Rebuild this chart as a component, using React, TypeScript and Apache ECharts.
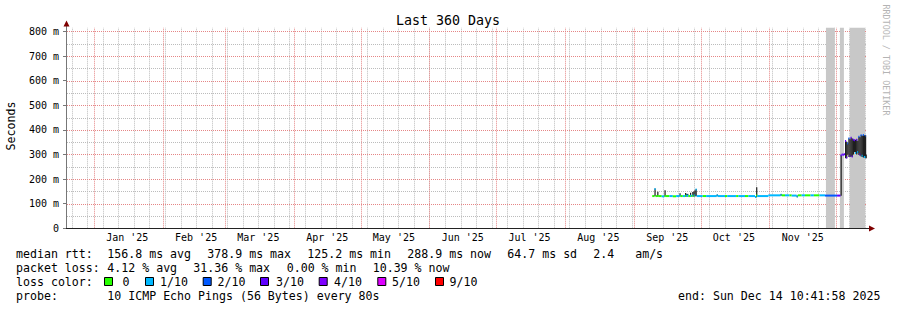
import React, { useEffect, useRef } from 'react';
import * as echarts from 'echarts';

// ---------- data ----------
const START = Date.UTC(2024, 11, 19, 10, 41, 58);
const END = Date.UTC(2025, 11, 14, 10, 41, 58);
const Y_MAX = 815;

const monthLabels = ["Jan '25", "Feb '25", "Mar '25", "Apr '25", "May '25", "Jun '25", "Jul '25", "Aug '25", "Sep '25", "Oct '25", "Nov '25"];
const monthStarts = ['2025-01-01', '2025-02-01', '2025-03-01', '2025-04-01', '2025-05-01', '2025-06-01', '2025-07-01', '2025-08-01', '2025-09-01', '2025-10-01', '2025-11-01', '2025-12-01'];
const yMajorTicks = [0, 100, 200, 300, 400, 500, 600, 700, 800];
const yMinorTicks = [50, 150, 250, 350, 450, 550, 650, 750];

const sampleTimes = [
  '2025-09-09 06:00', '2025-09-10 06:00', '2025-09-10 18:00', '2025-09-11 12:00', '2025-09-12 00:00',
  '2025-09-13 12:00', '2025-09-14 18:00', '2025-09-15 06:00', '2025-09-17 00:00', '2025-09-18 12:00',
  '2025-09-20 00:00', '2025-09-21 12:00', '2025-09-22 00:00', '2025-09-23 00:00', '2025-09-24 00:00',
  '2025-09-24 12:00', '2025-09-25 12:00', '2025-09-26 06:00', '2025-09-26 18:00', '2025-09-27 06:00',
  '2025-09-27 18:00', '2025-09-28 06:00', '2025-09-28 18:00', '2025-09-29 06:00', '2025-10-02 00:00',
  '2025-10-03 12:00', '2025-10-08 06:00', '2025-10-08 18:00', '2025-10-12 00:00', '2025-10-13 00:00',
  '2025-10-17 00:00', '2025-10-18 00:00', '2025-10-21 00:00', '2025-10-22 12:00', '2025-10-25 12:00',
  '2025-10-26 00:00', '2025-10-26 12:00', '2025-10-31 12:00', '2025-11-06 00:00', '2025-11-06 12:00',
  '2025-11-08 00:00', '2025-11-10 00:00', '2025-11-11 00:00', '2025-11-13 06:00', '2025-11-13 18:00',
  '2025-11-15 12:00', '2025-11-17 00:00', '2025-11-19 12:00', '2025-11-21 00:00', '2025-11-23 12:00',
  '2025-11-26 00:00', '2025-12-01 10:00', '2025-12-03 00:00', '2025-12-03 12:00', '2025-12-04 00:00',
  '2025-12-04 12:00', '2025-12-05 00:00', '2025-12-05 12:00', '2025-12-06 00:00', '2025-12-06 12:00',
  '2025-12-07 00:00', '2025-12-07 12:00', '2025-12-08 00:00', '2025-12-08 12:00', '2025-12-09 00:00',
  '2025-12-09 12:00', '2025-12-10 00:00', '2025-12-10 12:00', '2025-12-11 00:00', '2025-12-11 12:00',
  '2025-12-12 00:00', '2025-12-12 12:00', '2025-12-13 00:00', '2025-12-13 12:00', '2025-12-14 00:00',
  '2025-12-14 06:00',
];
const medianValues = [
  131, 160, 131, 131, 131,
  130, 131, 131, 131, 130,
  131, 133, 131, 131, 132,
  133, 131, 132, 131, 133,
  132, 134, 158, 131, 131,
  131, 134, 131, 131, 131,
  131, 131, 131, 131, 127,
  133, 131, 134, 136, 134,
  134, 134, 133, 129, 134,
  134, 134, 134, 134, 134,
  133, 133, 297, 300, 299,
  301, 355, 288, 345, 365,
  295, 368, 292, 360, 358,
  306, 360, 310, 372, 300,
  378, 295, 379, 290, 376,
  289,
];
const lossLevels = [
  0, 1, 0, 0, 0,
  1, 0, 0, 1, 0,
  1, 1, 0, 1, 0,
  1, 0, 1, 0, 1,
  0, 1, 1, 1, 0,
  1, 1, 1, 0, 1,
  0, 1, 0, 1, 1,
  0, 1, 1, 1, 0,
  1, 0, 1, 1, 0,
  1, 0, 1, 0, 1,
  2, 3, 3, 3, 3,
  3, 3, 3, 2, 2,
  3, 3, 3, 3, 3,
  1, 3, 1, 2, 3,
  2, 1, 2, 1, 2,
  1,
];
const smokeLow = [
  null, 130, null, 129, null,
  null, 129, null, null, null,
  null, 129, null, null, 129,
  129, null, 129, null, 129,
  129, 130, 130, null, null,
  null, 130, null, null, null,
  null, null, null, null, 123,
  128, null, null, 132, null,
  null, null, null, 126, null,
  null, null, null, null, null,
  null, null, 132, null, null,
  null, 285, 285, 300, 290,
  290, 292, 290, 300, 310,
  305, 300, 305, 298, 296,
  292, 290, 288, 286, 285,
  285,
];
const smokeHigh = [
  null, 162, null, 149, null,
  null, 155, null, null, null,
  null, 142, null, null, 143,
  140, null, 145, null, 148,
  150, 155, 160, null, null,
  null, 137, null, null, null,
  null, null, null, null, 131,
  167, null, null, 139, null,
  null, null, null, 133, null,
  null, null, null, null, null,
  null, null, 297, null, null,
  null, 355, 352, 345, 365,
  362, 368, 365, 360, 358,
  360, 362, 355, 372, 370,
  378, 376, 379, 378, 378,
  300,
];

const unknownStarts = ['2025-11-26 10:00', '2025-12-02 17:00', '2025-12-07 05:00'];
const unknownEnds = ['2025-11-30 10:00', '2025-12-04 12:00', '2025-12-14 00:00'];

const lossColors = ['#26ff00', '#00b8ff', '#0059ff', '#5e00ff', '#7e00ff', '#dd00ff', '#ff0000'];
const lossLabels = ['0', '1/10', '2/10', '3/10', '4/10', '5/10', '9/10'];

const titleText = 'Last 360 Days';
const yAxisTitle = 'Seconds';
const watermark = 'RRDTOOL / TOBI OETIKER';
const rttHeader = 'median rtt:';
const rttStats = ['156.8 ms avg', '378.9 ms max', '125.2 ms min', '288.9 ms now', '64.7 ms sd', '2.4   am/s'];
const lossHeader = 'packet loss:';
const lossStats = ['4.12 % avg', '31.36 % max', '0.00 % min', '10.39 % now'];
const colorHeader = 'loss color:';
const probeHeader = 'probe:';
const probeText = '10 ICMP Echo Pings (56 Bytes) every 80s';
const endText = 'end: Sun Dec 14 10:41:58 2025';

// ---------- helpers ----------
const toMs = (s: string) => Date.parse(s.length > 10 ? s.replace(' ', 'T') + ':00Z' : s + 'T00:00:00Z');
const DAY = 86400000;

const MONO = '"DejaVu Sans Mono", monospace';
const GRID_GRAY = '#bcbcbc';
const GRID_RED = '#e58686';

export default function App() {
  const ref = useRef<HTMLDivElement>(null);

  useEffect(() => {
    if (!ref.current) return;
    const chart = echarts.init(ref.current, null, { renderer: 'svg', width: 897, height: 310 });

    const times = sampleTimes.map(toMs);
    const monthMs = monthStarts.map(toMs);
    const labelMs = monthMs.slice(0, monthLabels.length).map((t) => t + 15 * DAY);

    // weekly (Sunday) minor vertical grid
    const weekMs: number[] = [];
    for (let t = Date.UTC(2024, 11, 22); t < END; t += 7 * DAY) weekMs.push(t);

    const snap = (v: number) => Math.round(v) + 0.5;

    const gridSeries = (name: string, vData: number[], hData: number[], color: string, z: number) => ({
      type: 'custom',
      name,
      silent: true,
      z,
      data: [...vData.map((t) => [t, 0, 0]), ...hData.map((v) => [START, v, 1])],
      encode: { x: 0, y: 1 },
      renderItem: (params: any, api: any) => {
        const horiz = api.value(2) === 1;
        let x1, y1, x2, y2;
        if (horiz) {
          const v = api.value(1);
          const a = api.coord([START, v]);
          const b = api.coord([END, v]);
          x1 = a[0] + 1; x2 = b[0]; y1 = y2 = snap(a[1]);
        } else {
          const t = api.value(0);
          const a = api.coord([t, 0]);
          const b = api.coord([t, Y_MAX]);
          x1 = x2 = snap(a[0]); y1 = a[1]; y2 = b[1];
        }
        return {
          type: 'line',
          shape: { x1, y1, x2, y2 },
          style: { stroke: color, lineWidth: 1, lineDash: [1, 1] },
        };
      },
    });

    const textEl = (x: number, y: number, text: string, font: string, align = 'left', fill = '#000', rotation = 0) => ({
      type: 'text',
      x,
      y,
      rotation,
      silent: true,
      style: {
        text,
        fill,
        font,
        textAlign: align,
        textVerticalAlign: 'middle',
        align,
        verticalAlign: 'middle',
      },
    });
    const LEG = `11.6px ${MONO}`;

    const rttX = [107.3, 207.3, 307.3, 407.3, 507.3, 593.3];
    const lossX = [107.3, 193.3, 286.7, 372.7];
    const swatchX = [104, 145, 202.7, 260, 318.7, 377.3, 435];
    const swatchLabelX = [122.5, 160, 217.5, 276, 334, 392, 449.5];

    const graphic: any[] = [
      textEl(448, 20, titleText, `13.3px ${MONO}`, 'center'),
      textEl(11, 126, yAxisTitle, LEG, 'center', '#000', Math.PI / 2),
      textEl(886, 60, watermark, `8.4px ${MONO}`, 'center', '#b4b4b4', -Math.PI / 2),
      // axis arrows
      { type: 'line', silent: true, shape: { x1: 66.5, y1: 28, x2: 66.5, y2: 25 }, style: { stroke: '#777', lineWidth: 1 } },
      { type: 'polygon', silent: true, shape: { points: [[63.5, 26.5], [66.5, 20.5], [69.5, 26.5]] }, style: { fill: '#7f0000' } },
      { type: 'line', silent: true, shape: { x1: 865, y1: 228.5, x2: 870, y2: 228.5 }, style: { stroke: '#222', lineWidth: 1 } },
      { type: 'polygon', silent: true, shape: { points: [[869, 225.5], [875, 228.5], [869, 231.5]] }, style: { fill: '#7f0000' } },
      textEl(16, 254, rttHeader, LEG),
      ...rttStats.map((s, i) => textEl(rttX[i], 254, s, LEG)),
      textEl(16, 268.3, lossHeader, LEG),
      ...lossStats.map((s, i) => textEl(lossX[i], 268.3, s, LEG)),
      textEl(16, 282.3, colorHeader, LEG),
      ...lossLabels.map((s, i) => textEl(swatchLabelX[i], 282.3, s, LEG)),
      ...lossColors.map((c, i) => ({
        type: 'rect', silent: true,
        shape: { x: swatchX[i] + 0.5, y: 277.5, width: 8, height: 8 },
        style: { fill: c, stroke: '#000', lineWidth: 1 },
      })),
      textEl(16, 296.3, probeHeader, LEG),
      textEl(107.3, 296.3, probeText, LEG),
      textEl(678, 296.3, endText, LEG),
    ];

    const option: any = {
      animation: false,
      backgroundColor: '#ffffff',
      grid: { left: 66, right: 31, top: 27.8, bottom: 81.7, containLabel: false },
      xAxis: {
        type: 'value',
        min: START,
        max: END,
        z: 5,
        axisLine: { show: true, onZero: false, lineStyle: { color: '#222', width: 1 } },
        axisTick: { show: false },
        splitLine: { show: false },
        axisLabel: {
          customValues: labelMs,
          formatter: (v: number) => {
            let best = 0;
            labelMs.forEach((t, i) => { if (Math.abs(t - v) < Math.abs(labelMs[best] - v)) best = i; });
            return monthLabels[best];
          },
          fontFamily: MONO,
          fontSize: 10,
          color: '#000',
          margin: 4,
          hideOverlap: false,
        },
      },
      yAxis: {
        type: 'value',
        min: 0,
        max: Y_MAX,
        interval: 100,
        z: 5,
        axisLine: { show: true, onZero: false, lineStyle: { color: '#777', width: 1 } },
        axisTick: { show: true, length: 3, customValues: yMajorTicks, lineStyle: { color: '#777' } },
        axisLabel: {
          customValues: yMajorTicks,
          formatter: (v: number) => (v === 0 ? '0' : `${v} m`),
          fontFamily: MONO,
          fontSize: 10,
          color: '#000',
          margin: 7,
        },
        splitLine: { show: false },
      },
      series: [
        gridSeries('minor grid', weekMs, yMinorTicks, GRID_GRAY, 1),
        gridSeries('major grid', monthMs, yMajorTicks.filter((v) => v > 0), GRID_RED, 1),
        {
          type: 'custom',
          name: 'unknown',
          silent: true,
          z: 2,
          data: unknownStarts.map((s, i) => [toMs(s), toMs(unknownEnds[i]), 0]),
          encode: { x: [0, 1], y: 2 },
          renderItem: (params: any, api: any) => {
            const a = api.coord([api.value(0), Y_MAX]);
            const b = api.coord([api.value(1), 0]);
            return {
              type: 'rect',
              shape: { x: a[0], y: a[1], width: b[0] - a[0], height: b[1] - a[1] },
              style: { fill: '#c8c8c8' },
            };
          },
        },
        {
          type: 'custom',
          name: 'median rtt',
          silent: true,
          z: 3,
          data: times.map((t, i) => [t, medianValues[i]]),
          encode: { x: 0, y: 1 },
          renderItem: (params: any, api: any) => {
            const i = params.dataIndex;
            const t0 = times[i];
            const t1 = i + 1 < times.length ? times[i + 1] : END;
            const m = medianValues[i];
            const a = api.coord([t0, m]);
            const b = api.coord([t1, m]);
            const children: any[] = [];
            const lo = smokeLow[i];
            const hi = smokeHigh[i];
            if (lo != null && hi != null) {
              const top = api.coord([t0, hi]);
              const bot = api.coord([t0, lo]);
              children.push({
                type: 'rect',
                shape: { x: a[0], y: top[1], width: Math.max(b[0] - a[0], 1.2), height: Math.max(bot[1] - top[1], 1) },
                style: { fill: '#1e1e1e' },
              });
            }
            children.push({
              type: 'line',
              shape: { x1: a[0], y1: a[1], x2: b[0], y2: b[1] },
              style: { stroke: lossColors[lossLevels[i]], lineWidth: 2, lineCap: 'butt' },
            });
            return { type: 'group', children };
          },
        },
      ],
      graphic,
    };

    chart.setOption(option);
    return () => chart.dispose();
  }, []);

  return <div ref={ref} style={{ position: 'absolute', left: 0, top: 0, width: 897, height: 310 }} />;
}
